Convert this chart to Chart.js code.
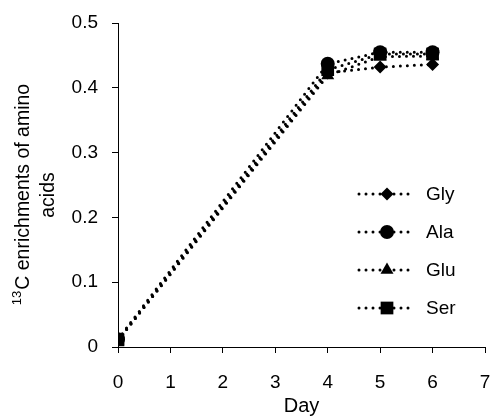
<html lang="en">
<head>
    <meta charset="UTF-8">
    <title>13C enrichments of amino acids</title>
    <script src="https://cdn.jsdelivr.net/npm/chart.js"></script>
    <style>
        html, body { margin: 0; padding: 0; background: #fff; }
        #wrap { width: 494px; height: 420px; }
    </style>
</head>
<body>
    <div id="wrap"><canvas id="enrichChart" width="494" height="420"></canvas></div>

    <script>
        // Sampling days and enrichment per amino acid
        const days = [0, 4, 5, 6];
        const gly = [0.010, 0.423, 0.432, 0.436];
        const ala = [0.012, 0.437, 0.455, 0.455];
        const glu = [0.010, 0.419, 0.448, 0.449];
        const ser = [0.011, 0.428, 0.452, 0.452];

        const seriesNames = ['Gly', 'Ala', 'Glu', 'Ser'];
        const markers = ['rectRot', 'circle', 'triangle', 'rect'];
        const markerSizes = [6.5, 7, 7.5, 9];

        const yTickLabels = ['0', '0.1', '0.2', '0.3', '0.4', '0.5'];
        const xTickLabels = ['0', '1', '2', '3', '4', '5', '6', '7'];

        const FONT = 'Arial, "Liberation Sans", sans-serif';

        function toPoints(vals) {
            return vals.map((v, i) => ({ x: days[i], y: v }));
        }

        const datasets = [gly, ala, glu, ser].map((vals, i) => ({
            label: seriesNames[i],
            data: toPoints(vals),
            borderColor: '#000',
            backgroundColor: '#000',
            borderWidth: 3,
            borderDash: [0, 7],
            borderCapStyle: 'round',
            tension: 0,
            pointStyle: markers[i],
            pointRadius: markerSizes[i],
            pointBorderWidth: 0,
            pointBackgroundColor: '#000',
        }));

        // y title with a superscript mass number
        const yTitlePlugin = {
            id: 'yTitle',
            afterDraw(chart) {
                const ctx = chart.ctx;
                const cy = 195;
                ctx.save();
                ctx.fillStyle = '#000';
                ctx.textBaseline = 'alphabetic';
                ctx.translate(29, cy);
                ctx.rotate(-Math.PI / 2);
                const big = '19.5px ' + FONT;
                const small = '13px ' + FONT;
                const rest = 'C enrichments of amino';
                ctx.font = small;
                const wSup = ctx.measureText('13').width;
                ctx.font = big;
                const wRest = ctx.measureText(rest).width;
                let x = -(wSup + wRest) / 2;
                ctx.font = small;
                ctx.textAlign = 'left';
                ctx.fillText('13', x, -8);
                ctx.font = big;
                ctx.fillText(rest, x + wSup + 1, 0);
                ctx.textAlign = 'center';
                ctx.fillText('acids', 0, 25);
                ctx.restore();
            }
        };

        // legend: dotted line with the series marker in the middle
        const legendPlugin = {
            id: 'dotLegend',
            afterDraw(chart) {
                const ctx = chart.ctx;
                chart.data.datasets.forEach((ds, i) => {
                    const y = 194 + 38 * i;
                    ctx.save();
                    ctx.strokeStyle = '#000';
                    ctx.lineWidth = 3;
                    ctx.lineCap = 'round';
                    ctx.setLineDash([0, 7]);
                    ctx.beginPath();
                    ctx.moveTo(359, y);
                    ctx.lineTo(411, y);
                    ctx.stroke();
                    ctx.restore();
                    ctx.save();
                    ctx.fillStyle = '#000';
                    ctx.strokeStyle = '#000';
                    Chart.helpers.drawPoint(ctx, {
                        pointStyle: ds.pointStyle,
                        radius: ds.pointRadius,
                        borderWidth: 0,
                        rotation: 0
                    }, 387, y);
                    ctx.restore();
                    ctx.save();
                    ctx.fillStyle = '#000';
                    ctx.font = '19px ' + FONT;
                    ctx.textAlign = 'left';
                    ctx.textBaseline = 'middle';
                    ctx.fillText(ds.label, 426, y + 1);
                    ctx.restore();
                });
            }
        };

        const ctx = document.getElementById('enrichChart').getContext('2d');
        new Chart(ctx, {
            type: 'line',
            data: { datasets },
            options: {
                responsive: false,
                animation: false,
                layout: { padding: { top: 23, right: 8, left: 0, bottom: 0 } },
                plugins: {
                    legend: { display: false },
                    tooltip: { enabled: false },
                },
                scales: {
                    x: {
                        type: 'linear',
                        min: 0,
                        max: 7,
                        afterFit: s => {
                            s.height = 73;
                            s.paddingLeft = 0;
                            s.paddingRight = 0;
                        },
                        grid: {
                            drawOnChartArea: false,
                            drawTicks: true,
                            tickLength: 6,
                            color: '#000',
                        },
                        border: { display: true, color: '#000', width: 1 },
                        ticks: {
                            stepSize: 1,
                            color: '#000',
                            padding: 18,
                            maxRotation: 0,
                            font: { family: FONT, size: 19 },
                            callback: (v) => xTickLabels[v],
                        },
                        title: {
                            display: true,
                            text: 'Day',
                            color: '#000',
                            font: { family: FONT, size: 20 },
                            padding: { top: 0, bottom: 2 },
                        },
                    },
                    y: {
                        min: 0,
                        max: 0.5,
                        afterFit: s => {
                            s.width = 118;
                            s.paddingTop = 0;
                            s.paddingBottom = 0;
                        },
                        grid: {
                            drawOnChartArea: false,
                            drawTicks: true,
                            tickLength: 6,
                            color: '#000',
                        },
                        border: { display: true, color: '#000', width: 1 },
                        ticks: {
                            stepSize: 0.1,
                            color: '#000',
                            padding: 14,
                            font: { family: FONT, size: 19 },
                            callback: (v) => yTickLabels[Math.round(v * 10)],
                        },
                    },
                },
            },
            plugins: [yTitlePlugin, legendPlugin],
        });
    </script>
</body>
</html>
